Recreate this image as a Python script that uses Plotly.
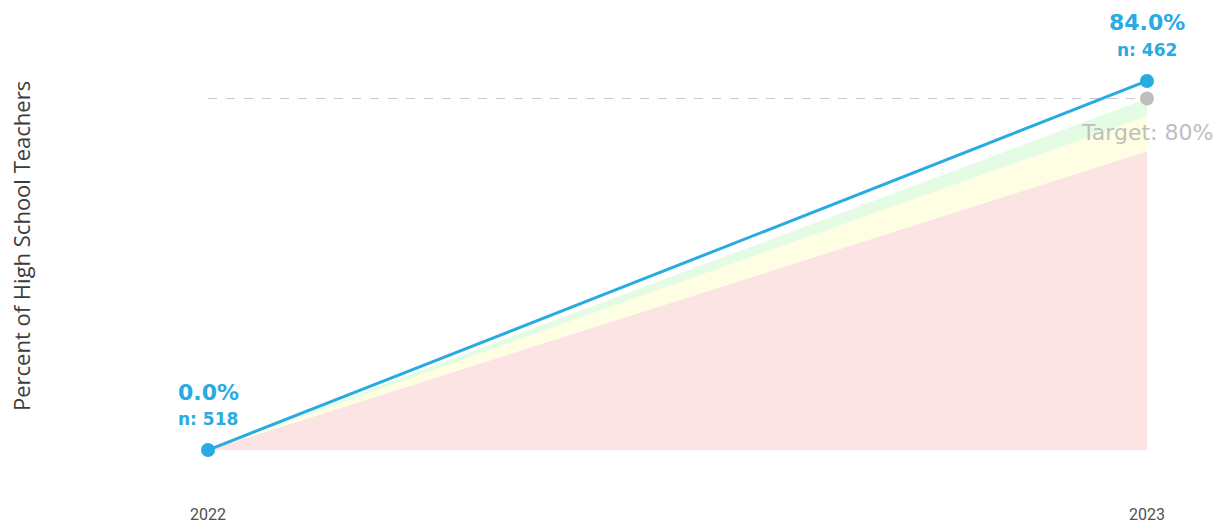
import plotly.graph_objects as go

years = [2022, 2023]
pct = [0.0, 84.0]
n_counts = [518, 462]
target = 80
band_red = [0, 68]
band_yellow = [0, 76]
band_green = [0, 80]

blue = 'rgb(41,171,226)'
grey = 'rgb(190,190,190)'

fig = go.Figure()

# performance bands under the target
fig.add_trace(go.Scatter(x=years, y=band_red, mode='lines', line=dict(width=0),
                         fill='tozeroy', fillcolor='rgb(253,228,228)', hoverinfo='skip'))
fig.add_trace(go.Scatter(x=years, y=band_yellow, mode='lines', line=dict(width=0),
                         fill='tonexty', fillcolor='rgb(254,254,226)', hoverinfo='skip'))
fig.add_trace(go.Scatter(x=years, y=band_green, mode='lines', line=dict(width=0),
                         fill='tonexty', fillcolor='rgb(228,252,228)', hoverinfo='skip'))

# target line + point
fig.add_trace(go.Scatter(x=years, y=[target, target], mode='lines',
                         line=dict(color='rgb(200,200,200)', width=1, dash='dash'),
                         hoverinfo='skip', cliponaxis=False))
fig.add_trace(go.Scatter(x=[years[-1]], y=[target], mode='markers',
                         marker=dict(color=grey, size=14), cliponaxis=False))

# actual values
fig.add_trace(go.Scatter(x=years, y=pct, mode='lines+markers',
                         line=dict(color=blue, width=3),
                         marker=dict(color=blue, size=14), cliponaxis=False))

annotations = []
for x, y, n in zip(years, pct, n_counts):
    annotations.append(dict(x=x, y=y, text='<b>%.1f%%</b>' % y, showarrow=False,
                            font=dict(family='DejaVu Sans', size=22, color=blue),
                            yshift=58))
    annotations.append(dict(x=x, y=y, text='<b>n: %d</b>' % n, showarrow=False,
                            font=dict(family='DejaVu Sans', size=17, color=blue),
                            yshift=31))
annotations.append(dict(x=years[-1], y=target, text='Target: %d%%' % target, showarrow=False,
                        font=dict(family='DejaVu Sans', size=22, color=grey),
                        yshift=-34))

# plot area in page pixels: left 200, width 939; top 20, bottom 495
annotations.append(dict(xref='paper', yref='paper', x=(-4 - 200) / 939,
                        y=(495 - 238) / 475, text='Percent of High School Teachers',
                        textangle=-90, showarrow=False,
                        font=dict(family='Open Sans', size=22, color='rgb(60,60,60)')))

fig.update_layout(
    width=1221, height=525,
    showlegend=False,
    plot_bgcolor='white', paper_bgcolor='white',
    margin=dict(l=200, r=82, t=20, b=30),
    xaxis=dict(range=[2022, 2023], tickvals=years, ticktext=[str(y) for y in years],
               showgrid=False, zeroline=False, showline=False, automargin=False,
               tickfont=dict(family='Roboto', size=16, color='rgb(80,80,80)')),
    yaxis=dict(range=[-12.06, 96.06], showgrid=False, zeroline=False, showline=False,
               showticklabels=False, automargin=False),
    annotations=annotations,
)

fig.write_html('out.html')
